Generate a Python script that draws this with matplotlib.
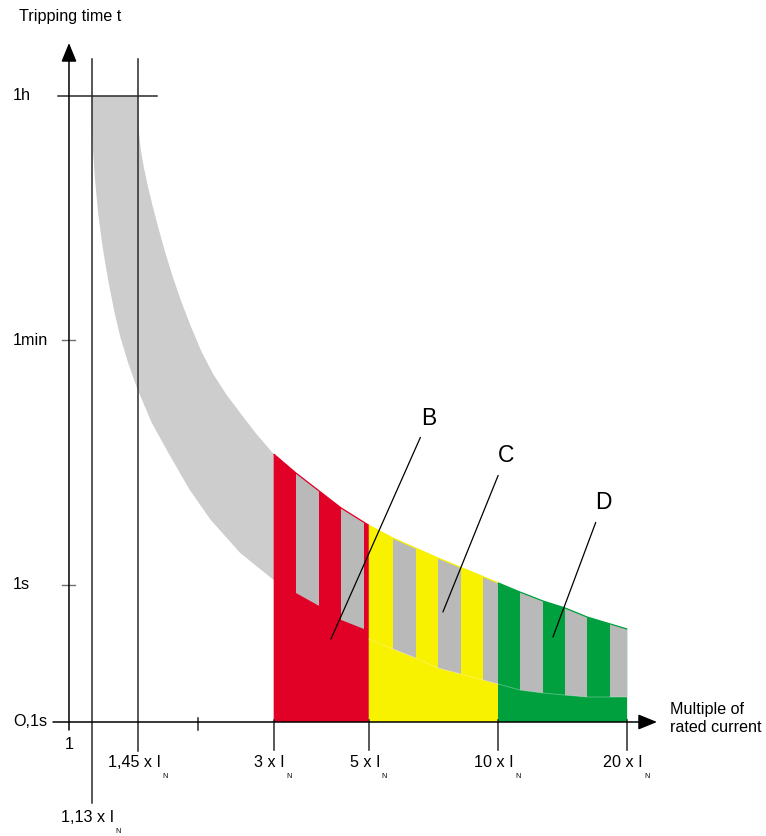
import numpy as np
import matplotlib
matplotlib.use("Agg")
import matplotlib.pyplot as plt
from matplotlib.patches import Polygon

plt.rcParams['font.family'] = ['Liberation Sans', 'DejaVu Sans']

# Upper limit of the tripping band: current multiple of I_N vs. time in seconds
upper_x = [1.45, 1.4525, 1.4577, 1.4728, 1.4958, 1.5269, 1.5668, 1.6163, 1.675,
           1.7458, 1.8288, 1.9257, 2.0383, 2.1679, 2.3311, 2.518, 2.7346, 3.0,
           3.38, 4.31, 5.0, 5.69, 7.25, 10.0, 11.25, 12.73, 14.33, 16.13, 20.0]
upper_t = [3600, 2617, 1872, 1408, 1076, 796, 569.6, 393.9, 263.5,
           173.3, 114.0, 74.96, 49.3, 34.1, 23.99, 17.44, 12.48, 8.92,
           6.49, 3.61, 2.70, 2.18, 1.56, 1.03, 0.883, 0.76, 0.676, 0.581, 0.475]

# Lower limit of the tripping band
lower_x = [1.13, 1.1318, 1.1372, 1.1501, 1.1695, 1.1976, 1.2362, 1.2762, 1.3171,
           1.3739, 1.4406, 1.5602, 1.7058, 1.9055, 2.1401, 2.5071, 3.0,
           3.38, 3.83, 4.31, 4.87, 5.0, 5.69, 6.44, 7.25, 8.2, 9.23, 10.0,
           11.25, 12.73, 14.33, 16.13, 20.0]
lower_t = [3600, 2213, 1455, 880.5, 506.3, 286.6, 159.3, 96.4, 63.4,
           41.0, 26.97, 15.0, 9.07, 4.964, 2.953, 1.698, 1.08,
           0.869, 0.699, 0.553, 0.475, 0.402, 0.34, 0.292, 0.247, 0.2235, 0.202, 0.189,
           0.171, 0.1626, 0.157, 0.152, 0.152]

# Instantaneous tripping zones for characteristics B, C and D
zone_names = ['B', 'C', 'D']
zone_start = [3, 5, 10]
zone_end = [5, 10, 20]
zone_colors = ['#e10026', '#f8f100', '#00a03e']

# Hatching stripes across the band inside the zones
stripe_start = [3.38, 4.31, 5.69, 7.25, 9.23, 11.25, 14.33, 18.24]
stripe_end = [3.83, 4.87, 6.44, 8.20, 10.0, 12.73, 16.13, 20.0]

# Axis annotations
x_ticks = [1.13, 1.45, 3, 5, 10, 20]
x_tick_labels = ['1,13 x I', '1,45 x I', '3 x I', '5 x I', '10 x I', '20 x I']
x_minor_ticks = [2]
y_ticks = [3600, 60, 1, 0.1]
y_tick_labels = ['1h', '1min', '1s', 'O,1s']

T_AXIS = 0.1
AXC = '#2a2a2a'
BAND = '#cdcdcd'
STRIPE = '#b9b9b9'

fig = plt.figure(figsize=(7.66, 8.36), dpi=100)
ax = fig.add_axes([0, 0, 1, 1])
ax.set_xscale('log')
ax.set_yscale('log')
ax.set_xlim(10 ** -0.1608, 10 ** 1.6247)
ax.set_ylim(10 ** -1.8297, 10 ** 4.2547)
ax.axis('off')

xt = ax.get_xaxis_transform()   # x: data, y: axes fraction
yt = ax.get_yaxis_transform()   # x: axes fraction, y: data

# Tripping band
band = Polygon(np.column_stack([lower_x + upper_x[::-1], lower_t + upper_t[::-1]]),
               closed=True, facecolor=BAND, edgecolor='none', zorder=1)
ax.add_patch(band)

# Coloured zones below the upper limit
for a, b, col in zip(zone_start, zone_end, zone_colors):
    seg = [(x, t) for x, t in zip(upper_x, upper_t) if a <= x <= b]
    pts = [(a, T_AXIS)] + seg + [(b, T_AXIS)]
    ax.add_patch(Polygon(pts, closed=True, facecolor=col, edgecolor='none', zorder=2))

# Grey stripes, clipped to the band
for x0, x1 in zip(stripe_start, stripe_end):
    s = ax.axvspan(x0, x1, facecolor=STRIPE, edgecolor='none', zorder=3)
    s.set_clip_path(band)

# Thin outlines along the band edges in the zones
for a, b, col in zip(zone_start, zone_end, zone_colors):
    ux = [x for x in upper_x if a <= x <= b]
    ut = [t for x, t in zip(upper_x, upper_t) if a <= x <= b]
    ax.plot(ux, ut, color=col, lw=0.9, zorder=4, solid_capstyle='butt')
    if a >= 5:
        lx = [x for x in lower_x if a <= x <= b]
        lt = [t for x, t in zip(lower_x, lower_t) if a <= x <= b]
        ax.plot(lx, lt, color='white', alpha=0.35, lw=0.6, zorder=4)

# Limit lines for the conventional non-tripping / tripping currents
ax.plot([1.13, 1.13], [1 - 803 / 836, 1 - 59 / 836], transform=xt, color=AXC, lw=1.1, zorder=6)
ax.plot([1.45, 1.45], [1 - 751 / 836, 1 - 59 / 836], transform=xt, color=AXC, lw=1.1, zorder=6)
ax.plot([58 / 766, 157 / 766], [3600, 3600], transform=yt, color=AXC, lw=1.1, zorder=6)

# Axes with arrow heads
arrow = dict(arrowstyle='-|>,head_length=1.15,head_width=0.47', mutation_scale=10,
             color='black', lw=1.1, shrinkA=0, shrinkB=0)
ax.annotate('', xy=(1, 1 - 43 / 836), xytext=(1, 1 - 730 / 836),
            xycoords=xt, textcoords=xt, arrowprops=arrow, zorder=7)
ax.annotate('', xy=(657 / 766, T_AXIS), xytext=(53 / 766, T_AXIS),
            xycoords=yt, textcoords=yt, arrowprops=arrow, zorder=7)

# y ticks and labels
for t, lab in zip(y_ticks, y_tick_labels):
    if t not in (3600, T_AXIS):
        ax.plot([62 / 766, 75 / 766], [t, t], transform=yt, color='#6e6e6e', lw=1.0, zorder=6)
    ax.text(13 / 766, t, lab, transform=yt, ha='left', va='center', fontsize=11.6)

# x ticks and labels
for x in x_minor_ticks:
    ax.plot([x, x], [1 - 730 / 836, 1 - 718 / 836], transform=xt, color=AXC, lw=1.1, zorder=6)
for x in x_ticks:
    if x >= 3:
        ax.plot([x, x], [1 - 750 / 836, 1 - 720 / 836], transform=xt, color=AXC, lw=1.1, zorder=6)

ax.annotate('1', xy=(1, T_AXIS), xytext=(0, -23), textcoords='offset pixels',
            ha='center', va='center', fontsize=11.6)
for x, lab in zip(x_ticks, x_tick_labels):
    dy = -96 if x == 1.13 else -41
    main = ax.annotate(lab, xy=(x, T_AXIS), xytext=(-4, dy), textcoords='offset pixels',
                       ha='center', va='center', fontsize=11.6)
    ax.annotate('N', xy=(1, 0), xycoords=main, xytext=(1.5, -3),
                textcoords='offset pixels', ha='left', va='top', fontsize=5.2)

# Axis titles
ax.text(19 / 766, 1 - 17 / 836, 'Tripping time t', transform=ax.transAxes,
        ha='left', va='center', fontsize=11.6)
ax.text(670 / 766, 1 - 718.5 / 836, 'Multiple of\nrated current', transform=ax.transAxes,
        ha='left', va='center', fontsize=11.6, linespacing=1.2)

# Zone labels with leader lines
label_at = {'B': (6.904, 16.3), 'C': (10.44, 8.63), 'D': (17.57, 3.93)}
point_at = {'B': (4.08, 0.402), 'C': (7.44, 0.632), 'D': (13.43, 0.4156)}
for name in zone_names:
    ax.annotate(name, xy=point_at[name], xytext=label_at[name],
                ha='center', va='center', fontsize=16.5,
                arrowprops=dict(arrowstyle='-', color='black', lw=0.9,
                                shrinkA=4, shrinkB=0), zorder=8)

fig.savefig('out.png', dpi=100)
